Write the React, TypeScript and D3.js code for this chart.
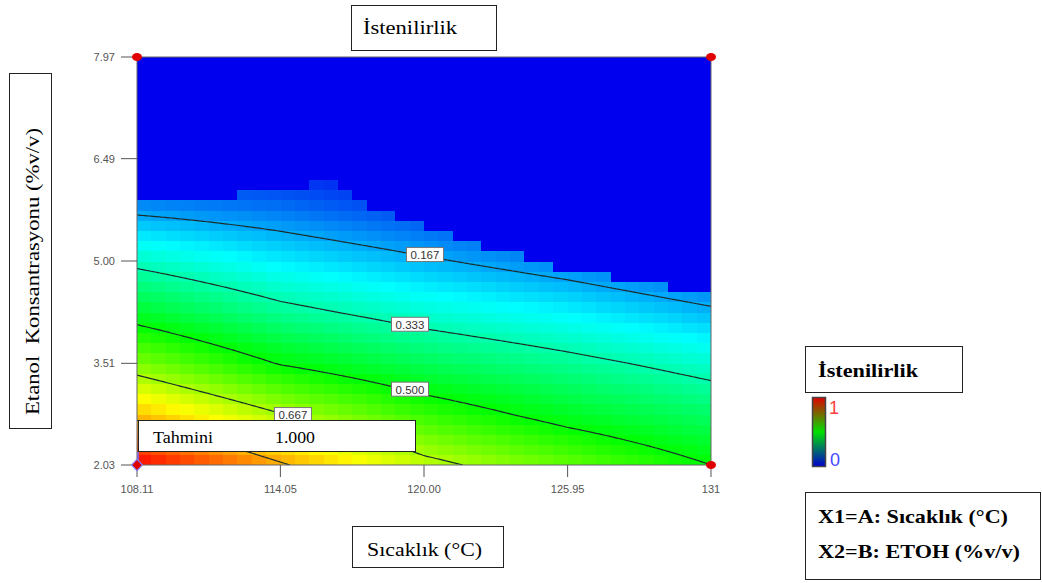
import * as d3 from "d3";

// axis ticks as printed on the chart
const tempTicks = [108.11, 114.05, 120.0, 125.95, 131.89];
const tempTickLabels = ["108.11", "114.05", "120.00", "125.95", "131"];
const etohTicks = [2.03, 3.51, 5.0, 6.49, 7.97];
const etohTickLabels = ["2.03", "3.51", "5.00", "6.49", "7.97"];

// desirability at grid nodes (rows: ETOH, cols: temperature)
const gridTemps = [108.11, 114.05, 120.0, 125.95, 131.89];
const gridEtoh = [2.03, 2.77, 3.51, 4.26, 5.0, 5.74, 6.49, 7.23, 7.97];
const gridValues = [
  [1.0, 0.843, 0.693, 0.597, 0.5],
  [0.81, 0.67, 0.552, 0.466, 0.401],
  [0.624, 0.495, 0.417, 0.359, 0.298],
  [0.459, 0.358, 0.292, 0.242, 0.18],
  [0.311, 0.236, 0.178, 0.123, 0.06],
  [0.152, 0.118, 0.065, 0.005, 0],
  [0, 0, 0, 0, 0],
  [0, 0, 0, 0, 0],
  [0, 0, 0, 0, 0],
];

// above this stepped border the desirability drops to zero
const zeroStepTemps = [112.27, 115.24, 116.43, 117.03, 117.62, 118.81, 120.0, 121.19, 122.38, 124.16, 125.35, 127.73, 130.11];
const zeroStepEtoh = [5.89, 6.04, 6.19, 6.04, 5.89, 5.74, 5.59, 5.45, 5.3, 5.15, 5.0, 4.85, 4.7, 4.56];

const contourLevels = [0.167, 0.333, 0.5, 0.667, 0.833];
const labelLevels = [0.167, 0.333, 0.5, 0.667];
const labelTemps = [120.04, 119.42, 119.42, 114.57];

const designPoints = [
  [108.11, 7.97],
  [131.89, 7.97],
  [131.89, 2.03],
];
const predicted = { temp: 108.11, etoh: 2.03, value: "1.000" };

const left = 137, right = 711, top = 57, bottom = 465;
const nCells = 40;

const x = d3.scaleLinear().domain([108.11, 131.89]).range([left, right]);
const y = d3.scaleLinear().domain([2.03, 7.97]).range([bottom, top]);
const color = d3
  .scaleLinear<string>()
  .domain([0, 0.25, 0.5, 0.75, 1])
  .range(["#0000ee", "#00ffff", "#00ff00", "#ffff00", "#ff0000"])
  .clamp(true);
const zeroEdge = d3.scaleThreshold<number, number>().domain(zeroStepTemps).range(zeroStepEtoh);

function desirability(t: number, e: number) {
  const i = Math.max(0, Math.min(gridTemps.length - 2, d3.bisectRight(gridTemps, t) - 1));
  const j = Math.max(0, Math.min(gridEtoh.length - 2, d3.bisectRight(gridEtoh, e) - 1));
  const u = (t - gridTemps[i]) / (gridTemps[i + 1] - gridTemps[i]);
  const v = (e - gridEtoh[j]) / (gridEtoh[j + 1] - gridEtoh[j]);
  const a = gridValues[j][i], b = gridValues[j][i + 1];
  const c = gridValues[j + 1][i], d = gridValues[j + 1][i + 1];
  return (1 - u) * (1 - v) * a + u * (1 - v) * b + (1 - u) * v * c + u * v * d;
}

const serif = "'Liberation Serif', 'Times New Roman', serif";
const sans = "'Liberation Sans', Arial, sans-serif";

export default function App() {
  const cw = (right - left) / nCells;
  const ch = (bottom - top) / nCells;

  const cells = d3.range(nCells * nCells).map((k) => {
    const c = k % nCells;
    const r = Math.floor(k / nCells);
    const t = x.invert(left + (c + 0.5) * cw);
    const e = y.invert(bottom - (r + 0.5) * ch);
    const v = e > zeroEdge(t) ? 0 : desirability(t, e);
    return { c, r, v };
  });

  // contour lines from a fine sampling of the field
  const nx = 288, ny = 205;
  const sx = (right - left) / (nx - 1);
  const sy = (bottom - top) / (ny - 1);
  const samples: number[] = new Array(nx * ny);
  for (let j = 0; j < ny; j++) {
    for (let i = 0; i < nx; i++) {
      samples[j * nx + i] = desirability(x.invert(left + i * sx), y.invert(top + j * sy));
    }
  }
  const contours = d3.contours().size([nx, ny]).thresholds(contourLevels)(samples);
  const contourPaths = contours.map((geo) => {
    let dStr = "";
    geo.coordinates.forEach((poly) =>
      poly.forEach((ring) => {
        let pen = false;
        ring.forEach(([gx, gy]) => {
          const onBorder = gx <= 0 || gx >= nx || gy <= 0 || gy >= ny;
          if (onBorder) {
            pen = false;
            return;
          }
          const px = left + (gx - 0.5) * sx;
          const py = top + (gy - 0.5) * sy;
          dStr += (pen ? "L" : "M") + px.toFixed(2) + "," + py.toFixed(2);
          pen = true;
        });
      })
    );
    return { level: geo.value, d: dStr };
  });

  const labels = labelLevels.map((lv, k) => {
    const t = labelTemps[k];
    let e = 7.97;
    while (e > 2.03 && desirability(t, e) < lv) e -= 0.005;
    return { text: lv.toFixed(3), px: x(t), py: y(e) };
  });

  const ppx = x(predicted.temp);
  const ppy = y(predicted.etoh);

  return (
    <svg
      width={1042}
      height={583}
      style={{ position: "absolute", left: 0, top: 0, background: "#fff" }}
    >
      <defs>
        <clipPath id="plotClip">
          <rect x={left} y={top} width={right - left} height={bottom - top} />
        </clipPath>
        <linearGradient id="legendGrad" x1="0" y1="0" x2="0" y2="1">
          <stop offset="0" stopColor="#e00000" />
          <stop offset="0.5" stopColor="#00e000" />
          <stop offset="1" stopColor="#0000d0" />
        </linearGradient>
      </defs>

      {/* title */}
      <rect x={351.5} y={5.5} width={145} height={45} fill="#fff" stroke="#222" />
      <text x={363} y={34} fontFamily={serif} fontSize={19} fill="#000" textLength={94} lengthAdjust="spacingAndGlyphs">
        İstenilirlik
      </text>

      {/* y title */}
      <rect x={9.5} y={73.5} width={42} height={355} fill="#fff" stroke="#222" />
      <text
        transform="translate(39,415) rotate(-90)"
        fontFamily={serif}
        fontSize={19}
        fill="#000"
        xmlSpace="preserve"
        textLength={287}
        lengthAdjust="spacingAndGlyphs"
      >
        {"Etanol  Konsantrasyonu (%v/v)"}
      </text>

      {/* x title */}
      <rect x={352.5} y={526.5} width={151} height={41} fill="#fff" stroke="#222" />
      <text x={367} y={556} fontFamily={serif} fontSize={19} fill="#000" textLength={115} lengthAdjust="spacingAndGlyphs">
        Sıcaklık (°C)
      </text>

      {/* cells */}
      <g clipPath="url(#plotClip)" shapeRendering="crispEdges">
        {cells.map((d, k) => (
          <rect
            key={k}
            x={left + d.c * cw}
            y={bottom - (d.r + 1) * ch}
            width={cw + 0.6}
            height={ch + 0.6}
            fill={color(d.v)}
          />
        ))}
      </g>

      {/* contour lines */}
      <g clipPath="url(#plotClip)">
        {contourPaths.map((p) => (
          <path key={p.level} d={p.d} fill="none" stroke="#1c2c2c" strokeWidth={1.2} />
        ))}
      </g>

      {/* contour labels */}
      {labels.map((l) => (
        <g key={l.text}>
          <rect x={l.px - 18.5} y={l.py - 9} width={37} height={14} fill="#fff" stroke="#777" strokeWidth={1} />
          <text x={l.px} y={l.py + 2.5} textAnchor="middle" fontFamily={sans} fontSize={11.5} fill="#333">
            {l.text}
          </text>
        </g>
      ))}

      {/* frame */}
      <rect x={left} y={top} width={right - left} height={bottom - top} fill="none" stroke="#666" strokeWidth={1} />

      {/* y axis ticks */}
      {etohTicks.map((v, k) => (
        <g key={v}>
          <line x1={121} x2={left} y1={y(v)} y2={y(v)} stroke="#555" />
          <text x={115} y={y(v) + 4} textAnchor="end" fontFamily={sans} fontSize={11} fill="#555">
            {etohTickLabels[k]}
          </text>
        </g>
      ))}

      {/* x axis ticks */}
      {tempTicks.map((v, k) => (
        <g key={v}>
          <line x1={x(v)} x2={x(v)} y1={bottom} y2={bottom + 12} stroke="#555" />
          <text x={x(v)} y={bottom + 28} textAnchor="middle" fontFamily={sans} fontSize={11} fill="#555">
            {tempTickLabels[k]}
          </text>
        </g>
      ))}

      {/* design points */}
      {designPoints.map(([t, e], k) => (
        <ellipse key={k} cx={x(t)} cy={y(e)} rx={5} ry={4} fill="#e00000" />
      ))}

      {/* prediction flag */}
      <line x1={ppx + 1} x2={ppx + 1} y1={ppy} y2={ppy - 13} stroke="#7070ff" strokeWidth={1.5} />
      <path
        d={d3.symbol(d3.symbolDiamond, 60)() || ""}
        transform={`translate(${ppx},${ppy}) scale(1.3,0.8)`}
        fill="#e00000"
        stroke="#8080ff"
        strokeWidth={1}
      />
      <rect x={ppx + 1.5} y={ppy - 44.5} width={277} height={31} fill="#fff" stroke="#222" />
      <text x={ppx + 16} y={ppy - 22} fontFamily={serif} fontSize={17} fill="#000" textLength={60} lengthAdjust="spacingAndGlyphs">
        Tahmini
      </text>
      <text x={ppx + 138} y={ppy - 22} fontFamily={serif} fontSize={17} fill="#000" textLength={40} lengthAdjust="spacingAndGlyphs">
        {predicted.value}
      </text>

      {/* legend */}
      <rect x={805.5} y={346.5} width={157} height={46} fill="#fff" stroke="#222" />
      <text x={818} y={377} fontFamily={serif} fontSize={19} fontWeight="bold" fill="#000" textLength={100} lengthAdjust="spacingAndGlyphs">
        İstenilirlik
      </text>
      <rect x={812.5} y={397.5} width={13} height={69} fill="url(#legendGrad)" stroke="#444" strokeWidth={1.5} />
      <text x={829} y={414} fontFamily={sans} fontSize={18} fill="#ff3c3c">
        1
      </text>
      <text x={830} y={466} fontFamily={sans} fontSize={18} fill="#4646ff">
        0
      </text>

      <rect x={805.5} y={492.5} width={235} height={87} fill="#fff" stroke="#222" />
      <text x={818} y={523} fontFamily={serif} fontSize={19} fontWeight="bold" fill="#000" textLength={190} lengthAdjust="spacingAndGlyphs">
        X1=A: Sıcaklık (°C)
      </text>
      <text x={818} y={558} fontFamily={serif} fontSize={19} fontWeight="bold" fill="#000" textLength={202} lengthAdjust="spacingAndGlyphs">
        X2=B: ETOH (%v/v)
      </text>
    </svg>
  );
}
